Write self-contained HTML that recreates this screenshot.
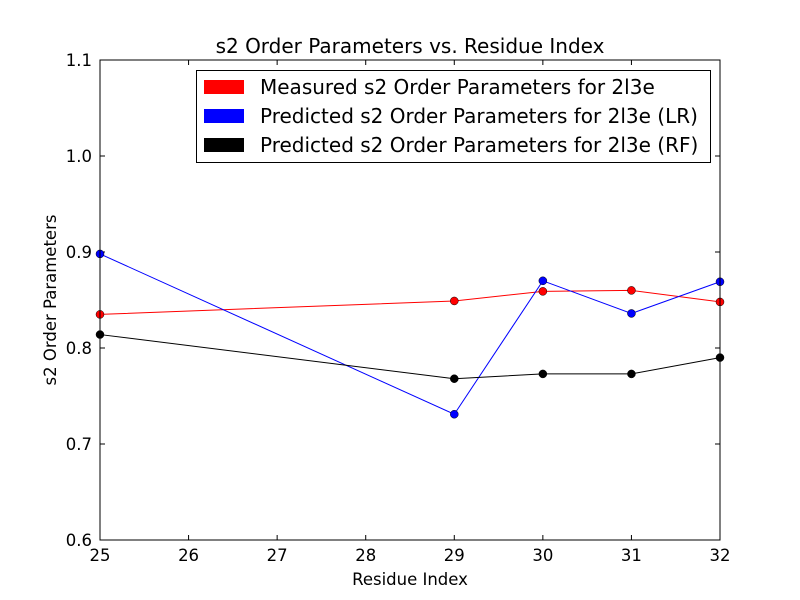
<!DOCTYPE html>
<html><head><meta charset="utf-8"><style>
body{margin:0;background:#fff;}
svg{display:block;font-family:"DejaVu Sans","Liberation Sans",sans-serif;}
</style></head><body>
<svg id="chart" width="800" height="600" xmlns="http://www.w3.org/2000/svg">
<rect width="800" height="600" fill="#fff"/>
<g id="plot"></g>
</svg>
<script>
const xValues=[25,29,30,31,32];
const measured=[0.835,0.849,0.859,0.860,0.848];
const predictedLR=[0.898,0.731,0.870,0.836,0.869];
const predictedRF=[0.814,0.768,0.773,0.773,0.790];
const xTicks=[25,26,27,28,29,30,31,32];
const yTicks=[0.6,0.7,0.8,0.9,1.0,1.1];
const legendLabels=["Measured s2 Order Parameters for 2l3e","Predicted s2 Order Parameters for 2l3e (LR)","Predicted s2 Order Parameters for 2l3e (RF)"];
const colors=["#ff0000","#0000ff","#000000"];

const L=100,R=720,T=60,B=540;
const sx=v=>L+(v-25)/(32-25)*(R-L);
const sy=v=>B-(v-0.6)/(1.1-0.6)*(B-T);
const NS="http://www.w3.org/2000/svg";
const g=document.getElementById('plot');
function mk(tag,attrs,parent){const e=document.createElementNS(NS,tag);for(const k in attrs)e.setAttribute(k,attrs[k]);(parent||g).appendChild(e);return e;}

let t=mk('text',{x:410,y:53,'text-anchor':'middle','font-size':20});t.textContent="s2 Order Parameters vs. Residue Index";


t=mk('text',{x:410,y:585,'text-anchor':'middle','font-size':16.5});t.textContent="Residue Index";


t=mk('text',{x:56,y:300,'text-anchor':'middle','font-size':16.5,transform:'rotate(-90 56 300)'});t.textContent="s2 Order Parameters";



xTicks.forEach(v=>{const x=sx(v);
 mk('line',{x1:x,x2:x,y1:B,y2:B-5,stroke:'#000'});mk('line',{x1:x,x2:x,y1:T,y2:T+5,stroke:'#000'});
 const l=mk('text',{x:x,y:B+21,'text-anchor':'middle','font-size':16.5});l.textContent=v;
 
 
});
yTicks.forEach(v=>{const y=sy(v);
 mk('line',{x1:L,x2:L+5,y1:y,y2:y,stroke:'#000'});mk('line',{x1:R,x2:R-5,y1:y,y2:y,stroke:'#000'});
 const l=mk('text',{x:L-8,y:y+6,'text-anchor':'end','font-size':16.5});l.textContent=v.toFixed(1);
 
 
});

const series=[measured,predictedLR,predictedRF];
const names=['measured-series','predicted-lr-series','predicted-rf-series'];
series.forEach((s,i)=>{
 const pl=mk('polyline',{points:s.map((v,j)=>sx(xValues[j])+','+sy(v)).join(' '),fill:'none',stroke:colors[i],'stroke-width':1});
 
 
 s.forEach((v,j)=>{const c=mk('circle',{cx:sx(xValues[j]),cy:sy(v),r:4,fill:colors[i],stroke:'#000','stroke-width':0.5});
  
  
 });
});

const fr=mk('rect',{x:L,y:T,width:R-L,height:B-T,fill:'none',stroke:'#000','stroke-width':1});



const lg=mk('g',{});


mk('rect',{x:196.5,y:70.5,width:514,height:92,fill:'#fff',stroke:'#000'},lg);
legendLabels.forEach((lab,i)=>{const y=87+i*29;
 mk('rect',{x:204,y:y-7,width:40,height:14,fill:colors[i]},lg);
 const tx=mk('text',{x:260,y:y+7,'font-size':20},lg);tx.textContent=lab;
 
 
});
</script>
</body></html>
